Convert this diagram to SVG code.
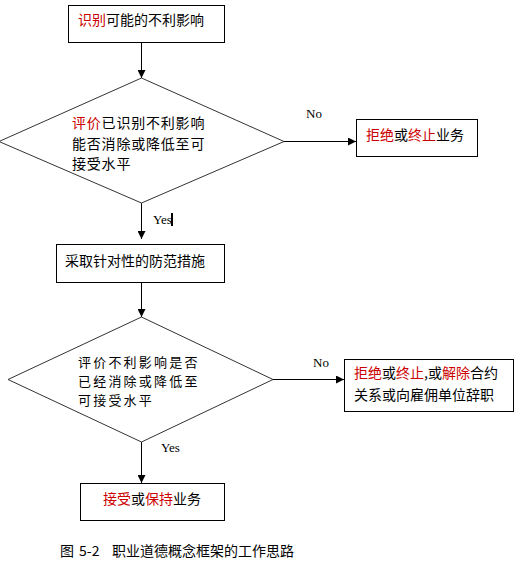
<svg xmlns="http://www.w3.org/2000/svg" width="518" height="562" viewBox="0 0 518 562">
<style>
.box{fill:#fff;stroke:#000;stroke-width:1}
.dia{fill:#fff;stroke:#333;stroke-width:1}
.t{font-family:"Noto Sans CJK SC","Noto Sans",sans-serif;font-size:14px;fill:#000}
.s{font-size:13px;letter-spacing:2.2px}
.r{fill:#cc0000}
.lbl{font-family:"Liberation Serif",serif;font-size:13px;fill:#000}
.conn line{stroke:#000;stroke-width:1}
</style>
<defs>
<marker id="arr" markerUnits="userSpaceOnUse" markerWidth="8" markerHeight="8" refX="8" refY="4" orient="auto">
<path d="M0,0 L8,4 L0,8 z" fill="#000"/>
</marker>
</defs>
<rect width="518" height="562" fill="#fff"/>
<g id="connectors" class="conn">
<line x1="141.5" y1="42" x2="141.5" y2="78" marker-end="url(#arr)"/>
<line x1="141.5" y1="203" x2="141.5" y2="239" marker-end="url(#arr)"/>
<line x1="141.5" y1="282" x2="141.5" y2="317" marker-end="url(#arr)"/>
<line x1="141.5" y1="442" x2="141.5" y2="483" marker-end="url(#arr)"/>
<line x1="284" y1="141.5" x2="356" y2="141.5" marker-end="url(#arr)"/>
<line x1="273" y1="379.5" x2="344" y2="379.5" marker-end="url(#arr)"/>
<text class="lbl" x="306" y="118">No</text>
<text class="lbl" x="153" y="224">Yes</text>
<rect x="171" y="213" width="2" height="13" fill="#000"/>
<text class="lbl" x="313" y="367">No</text>
<text class="lbl" x="161" y="452">Yes</text>
</g>
<g id="identify">
<rect class="box" x="68.5" y="5.5" width="156" height="37"/>
<text class="t" x="78" y="25"><tspan class="r">识别</tspan>可能的不利影响</text>
</g>
<g id="evaluate1">
<polygon class="dia" points="141.5,78 284,141.5 141.5,203 -1,141.5"/>
<text class="t" x="72" y="128" letter-spacing="0.8"><tspan class="r">评价</tspan>已识别不利影响</text>
<text class="t" x="72" y="149" letter-spacing="0.8">能否消除或降低至可</text>
<text class="t" x="72" y="169" letter-spacing="0.8">接受水平</text>
</g>
<g id="reject1">
<rect class="box" x="356.5" y="119.5" width="121" height="37"/>
<text class="t" x="366" y="140"><tspan class="r">拒绝</tspan>或<tspan class="r">终止</tspan>业务</text>
</g>
<g id="measures">
<rect class="box" x="56.5" y="244.5" width="168" height="38"/>
<text class="t" x="65" y="266">采取针对性的防范措施</text>
</g>
<g id="evaluate2">
<polygon class="dia" points="141.5,317 273,379.5 141.5,442 8,379.5"/>
<text class="t s" x="78" y="367">评价不利影响是否</text>
<text class="t s" x="78" y="386">已经消除或降低至</text>
<text class="t s" x="78" y="405">可接受水平</text>
</g>
<g id="reject2">
<rect class="box" x="344.5" y="359.5" width="169" height="52"/>
<text class="t" x="354" y="378"><tspan class="r">拒绝</tspan>或<tspan class="r">终止</tspan>,或<tspan class="r">解除</tspan>合约</text>
<text class="t" x="354" y="400">关系或向雇佣单位辞职</text>
</g>
<g id="accept">
<rect class="box" x="80.5" y="483.5" width="144" height="37"/>
<text class="t" x="103" y="504"><tspan class="r">接受</tspan>或<tspan class="r">保持</tspan>业务</text>
</g>
<g id="caption">
<text class="t" x="60" y="556">图</text>
<text class="t" x="79" y="556">5-2</text>
<text class="t" x="112" y="556">职业道德概念框架的工作思路</text>
</g>
</svg>
